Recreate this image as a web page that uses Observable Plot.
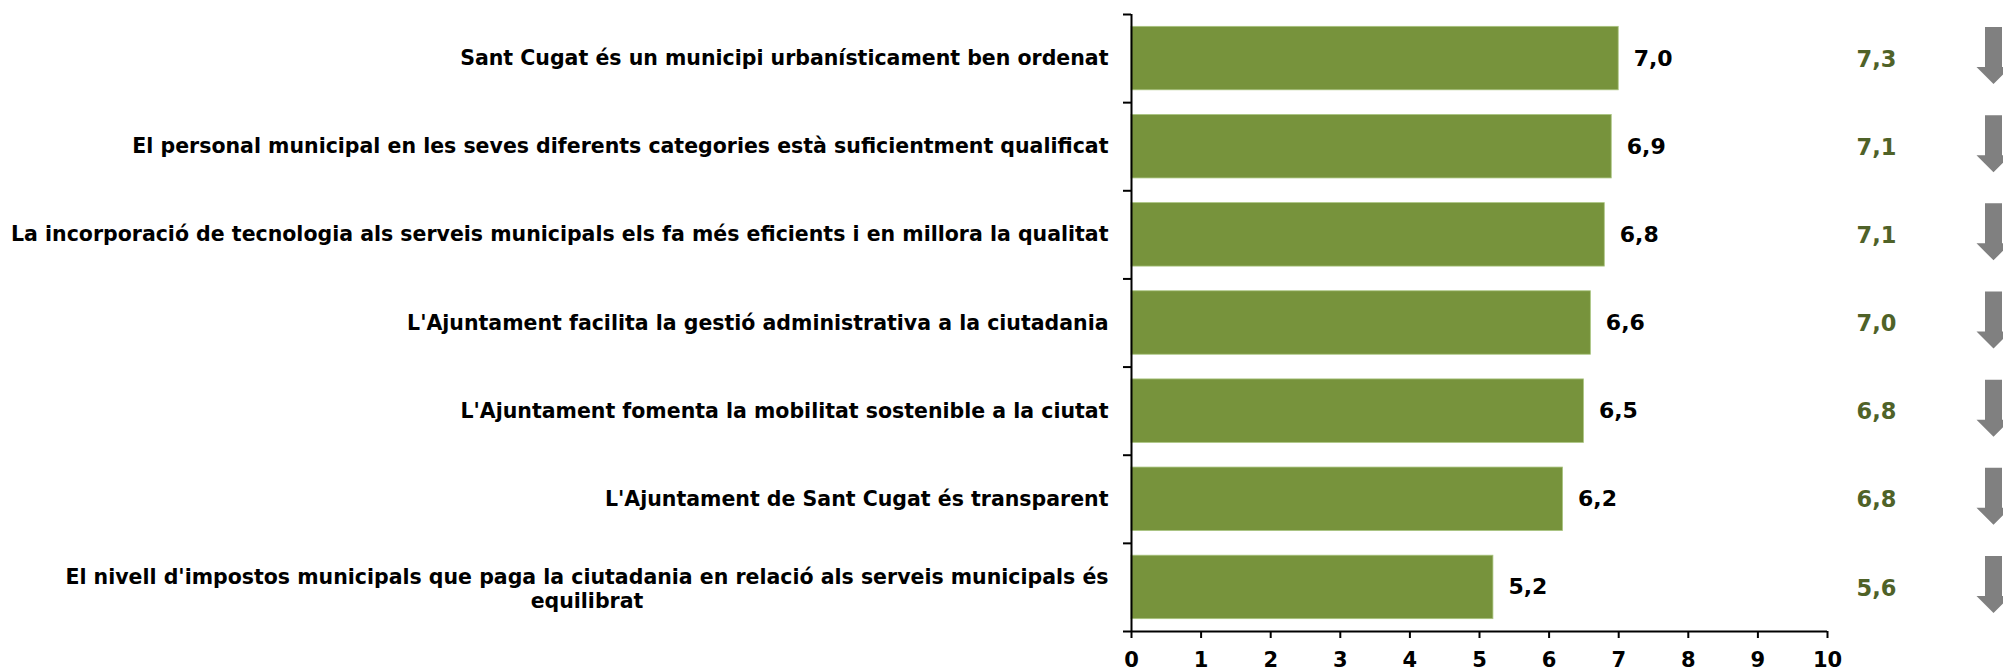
<!DOCTYPE html>
<html><head><meta charset="utf-8">
<script src="https://cdn.jsdelivr.net/npm/d3@7"></script>
<script src="https://cdn.jsdelivr.net/npm/@observablehq/plot@0.6"></script>
<style>
  html,body{margin:0;padding:0;background:#fff;}
  #chart svg{display:block;}
</style>
</head><body><div id="chart"></div>
<script>
const categories = [
  "Sant Cugat és un municipi urbanísticament ben ordenat",
  "El personal municipal en les seves diferents categories està suficientment qualificat",
  "La incorporació de tecnologia als serveis municipals els fa més eficients i en millora la qualitat",
  "L'Ajuntament facilita la gestió administrativa a la ciutadania",
  "L'Ajuntament fomenta la mobilitat sostenible a la ciutat",
  "L'Ajuntament de Sant Cugat és transparent",
  "El nivell d'impostos municipals que paga la ciutadania en relació als serveis municipals és\nequilibrat"
];
const currentValues = [7.0, 6.9, 6.8, 6.6, 6.5, 6.2, 5.2];
const previousValues = [7.3, 7.1, 7.1, 7.0, 6.8, 6.8, 5.6];
const xTicks = [0, 1, 2, 3, 4, 5, 6, 7, 8, 9, 10];

const FONT = "'DejaVu Sans', Verdana, sans-serif";
const LABEL_SIZE = 20.5;
const locale = d3.formatLocale({decimal: ",", thousands: ".", grouping: [3], currency: ["", "€"]});
const fmt = locale.format(".1f");

const rows = categories.map((label, i) => ({i, label, cur: currentValues[i], prev: previousValues[i]}));
const single = rows.filter(d => !d.label.includes("\n"));
const multi = rows.filter(d => d.label.includes("\n"));

// measure widest line of wrapped label to centre its lines in the label box
const ctx = document.createElement("canvas").getContext("2d");
ctx.font = `bold ${LABEL_SIZE}px ${FONT}`;
const multiW = multi.length ? d3.max(multi[0].label.split("\n"), s => ctx.measureText(s).width) : 0;

const arrowDown = {
  draw(context) {
    const sw = 8.5, hw = 17, top = -28.5, neck = 11.5, tip = 28.5;
    context.moveTo(-sw, top);
    context.lineTo(sw, top);
    context.lineTo(sw, neck);
    context.lineTo(hw, neck);
    context.lineTo(0, tip);
    context.lineTo(-hw, neck);
    context.lineTo(-sw, neck);
    context.closePath();
  }
};

const chart = Plot.plot({
  width: 2003,
  height: 670,
  marginTop: 14,
  marginBottom: 39,
  marginLeft: 1131,
  marginRight: 176,
  style: {fontFamily: FONT, background: "#fff", overflow: "visible"},
  x: {domain: [0, 10]},
  y: {domain: [0, categories.length], reverse: true},
  marks: [
    Plot.rectX(rows, {x: "cur", y1: d => d.i + 0.14, y2: d => d.i + 0.86, fill: "#77933C", stroke: "#A9C47F", strokeWidth: 0.8}),
    Plot.text(rows, {x: "cur", y: d => d.i + 0.5, text: d => fmt(d.cur), dx: 15, textAnchor: "start",
      fontSize: 22, fontWeight: "bold", fill: "#000", fontFamily: FONT}),
    Plot.text(rows, {y: d => d.i + 0.5, frameAnchor: "right", dx: 49, dy: 1, text: d => fmt(d.prev), textAnchor: "middle",
      fontSize: 22.5, fontWeight: "bold", fill: "#4F6228", fontFamily: FONT}),
    Plot.dot(rows, {y: d => d.i + 0.5, frameAnchor: "right", dx: 166, dy: -3, symbol: arrowDown, fill: "#808080", stroke: "none"}),
    Plot.text(single, {y: d => d.i + 0.5, frameAnchor: "left", dx: -23, text: "label", textAnchor: "end",
      fontSize: LABEL_SIZE, fontWeight: "bold", fill: "#000", fontFamily: FONT}),
    Plot.text(multi, {y: d => d.i + 0.5, frameAnchor: "left", dx: -23 - multiW / 2, dy: 1, text: "label", textAnchor: "middle",
      lineHeight: 1.14, fontSize: LABEL_SIZE, fontWeight: "bold", fill: "#000", fontFamily: FONT}),
    Plot.axisY({ticks: d3.range(categories.length + 1), tickSize: 8, tickFormat: () => "", strokeWidth: 2, label: null}),
    Plot.axisX({ticks: xTicks, tickSize: 7, tickPadding: 14, tickFormat: d => String(d), fontSize: 21, fontWeight: "bold",
      strokeWidth: 2, label: null, fill: "#000"}),
    Plot.ruleX([0], {stroke: "#000", strokeWidth: 2}),
    Plot.ruleY([categories.length], {stroke: "#000", strokeWidth: 2})
  ]
});
document.getElementById("chart").appendChild(chart);
</script>
</body></html>
